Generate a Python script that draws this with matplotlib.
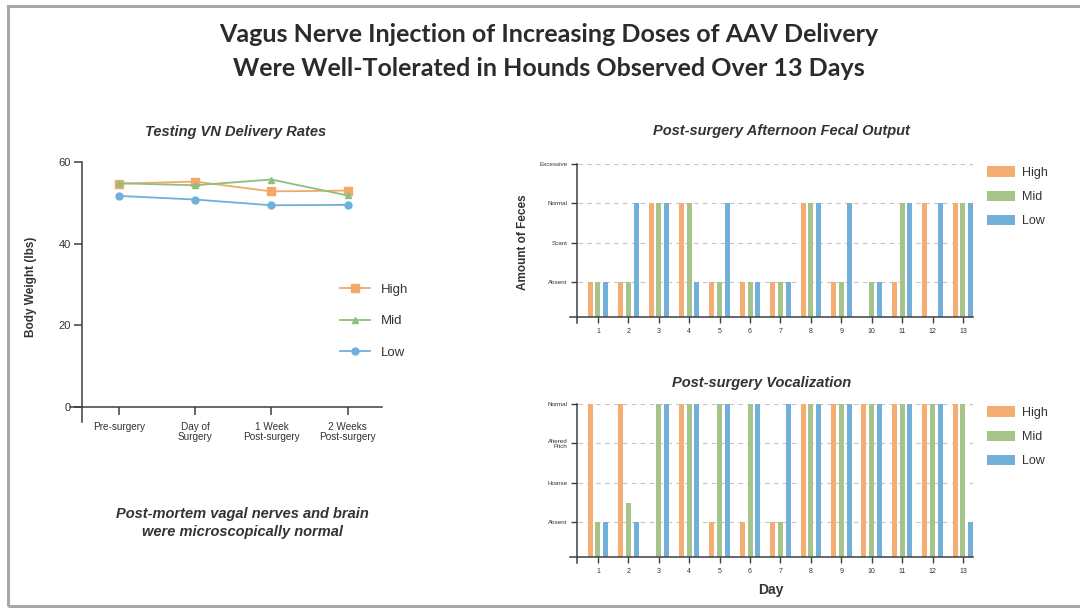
import matplotlib
matplotlib.use("Agg")
import matplotlib.pyplot as plt
from matplotlib.patches import Rectangle, Patch
import numpy as np

# ---------------- data ----------------
timepoints = ["Pre-surgery", "Day of\nSurgery", "1 Week\nPost-surgery", "2 Weeks\nPost-surgery"]
weight_high = [54.7, 55.2, 52.8, 53.0]
weight_mid = [54.8, 54.3, 55.7, 51.8]
weight_low = [51.7, 50.8, 49.4, 49.5]
weight_ticks = [0, 20, 40, 60]

days = list(range(1, 14))
feces_levels = ["Absent", "Scant", "Normal", "Excessive"]
feces_high = [1, 1, 3, 3, 1, 1, 1, 3, 1, 0, 1, 3, 3]
feces_mid = [1, 1, 3, 3, 1, 1, 1, 3, 1, 1, 3, 0, 3]
feces_low = [1, 3, 3, 1, 3, 1, 1, 3, 3, 1, 3, 3, 3]

voc_levels = ["Absent", "Hoarse", "Altered\nPitch", "Normal"]
voc_high = [4, 4, 0, 4, 1, 1, 1, 4, 4, 4, 4, 4, 4]
voc_mid = [1, 1.5, 4, 4, 4, 4, 1, 4, 4, 4, 4, 4, 4]
voc_low = [1, 1, 4, 4, 4, 4, 4, 4, 4, 4, 4, 4, 1]

groups = ["High", "Mid", "Low"]

# ---------------- style ----------------
C_OR = "#F4AE74"
C_GR = "#A6C48A"
C_BL = "#72B0DA"
L_OR = "#F3A86A"
L_GR = "#8DC07C"
L_BL = "#6FB0DD"
AX_C = "#3A3F44"
TXT = "#333333"
FONT = "Liberation Sans"

W, H = 1080, 608
fig = plt.figure(figsize=(W / 100, H / 100), dpi=100)
fig.patch.set_facecolor("white")

def fx(px):
    return px / W

def fy(py):
    return 1 - py / H

# slide border
fig.add_artist(Rectangle((fx(8), fy(606)), fx(1100) - fx(8), fy(6) - fy(606),
                         transform=fig.transFigure, fill=False,
                         edgecolor="#A8A8A8", linewidth=2.2, zorder=0))

# main title
fig.text(fx(549), fy(35), "Vagus Nerve Injection of Increasing Doses of AAV Delivery",
         ha="center", va="center", fontsize=18, fontweight="bold",
         family="Lato", color="#2B2B2B")
fig.text(fx(549), fy(68), "Were Well-Tolerated in Hounds Observed Over 13 Days",
         ha="center", va="center", fontsize=18, fontweight="bold",
         family="Lato", color="#2B2B2B")

# ---------------- left line chart ----------------
axL = fig.add_axes([fx(70), fy(422), fx(382) - fx(70), fy(162) - fy(422)])
xs = np.arange(len(timepoints))
axL.set_xlim(-0.64, 3.45)
axL.set_ylim(-3.7, 60)
for vals, col, mk, ms, lab in [(weight_high, L_OR, "s", 5.5, "High"),
                                (weight_mid, L_GR, "^", 5, "Mid"),
                                (weight_low, L_BL, "o", 5, "Low")]:
    axL.plot(xs, vals, color=col, marker=mk, markersize=ms, linewidth=1.3,
             markeredgecolor=col, label=lab)
axL.spines["top"].set_visible(False)
axL.spines["right"].set_visible(False)
axL.spines["left"].set_position(("data", -0.485))
axL.spines["bottom"].set_position(("data", 0))
for s in ["left", "bottom"]:
    axL.spines[s].set_color(AX_C)
    axL.spines[s].set_linewidth(1.1)
axL.set_xticks(xs)
axL.set_xticklabels(timepoints, fontsize=7.2, color=TXT, family=FONT, linespacing=1.0)
axL.set_yticks(weight_ticks)
axL.set_yticklabels([str(t) for t in weight_ticks], fontsize=8, color=TXT, family=FONT)
axL.tick_params(axis="both", colors=AX_C, length=6, width=1.1)
axL.tick_params(axis="x", labelcolor=TXT, pad=5)
axL.tick_params(axis="y", labelcolor=TXT, pad=2)
axL.patch.set_alpha(0)
fig.text(fx(31), fy(287), "Body Weight (lbs)", rotation=90, ha="center", va="center",
         fontsize=8.5, fontweight="bold", color=TXT, family=FONT)
fig.text(fx(236), fy(132), "Testing VN Delivery Rates", ha="center", va="center",
         fontsize=10.5, fontweight="bold", style="italic", color=TXT, family=FONT)
legL = fig.legend(handles=axL.get_lines(), labels=groups, loc="upper left",
                  bbox_to_anchor=(fx(328), fy(272)), frameon=False,
                  handlelength=2.3, labelspacing=1.45,
                  prop={"family": FONT, "size": 9.5})
for t in legL.get_texts():
    t.set_color(TXT)

fig.text(fx(242), fy(523), "Post-mortem vagal nerves and brain\nwere microscopically normal",
         ha="center", va="center", fontsize=10.5, fontweight="bold", style="italic",
         color=TXT, family=FONT, linespacing=1.45)

# ---------------- bar charts ----------------
def bar_chart(top_px, levels, high, mid, low, ylabel, title, title_x, title_y, legend_y, show_day):
    step = 39.4
    ymin = -0.04
    bottom_px = top_px + (4 - ymin) * step
    ax = fig.add_axes([fx(570), fy(bottom_px), fx(973) - fx(570), fy(top_px) - fy(bottom_px)])
    ax.set_xlim(0.08, 13.33)
    ax.set_ylim(ymin, 4.0)
    base = 0.11
    x = np.array(days, dtype=float)
    w = 0.165
    off = 0.255
    for vals, col, dx in [(high, C_OR, -off), (mid, C_GR, 0.0), (low, C_BL, off)]:
        v = np.array(vals, dtype=float)
        hts = np.where(v > base, v - base, 0)
        ax.bar(x + dx, hts, width=w, bottom=base, color=col, zorder=3, linewidth=0)
    for lv in range(1, 5):
        ax.axhline(lv, xmin=0.02, color="#C4C4C4", linestyle=(0, (4, 4)), linewidth=0.8, zorder=1)
    ax.spines["top"].set_visible(False)
    ax.spines["right"].set_visible(False)
    ax.spines["left"].set_position(("data", 0.31))
    ax.spines["bottom"].set_position(("data", base))
    for s in ["left", "bottom"]:
        ax.spines[s].set_color(AX_C)
        ax.spines[s].set_linewidth(1.1)
        ax.spines[s].set_zorder(4)
    ax.set_xticks(days)
    ax.set_xticklabels([str(d) for d in days], fontsize=5, color=TXT, family=FONT)
    ax.set_yticks([1, 2, 3, 4])
    ax.set_yticklabels(levels, fontsize=4.5, color=TXT, family=FONT, linespacing=1.0)
    ax.tick_params(axis="both", colors=AX_C, length=4, width=1.0)
    ax.tick_params(axis="x", labelcolor=TXT, pad=4)
    ax.tick_params(axis="y", labelcolor=TXT, pad=3)
    ax.patch.set_alpha(0)
    if ylabel:
        fig.text(fx(523), fy(top_px + 78), ylabel, rotation=90, ha="center", va="center",
                 fontsize=8.5, fontweight="bold", color=TXT, family=FONT)
    fig.text(fx(title_x), fy(title_y), title, ha="center", va="center",
             fontsize=10.5, fontweight="bold", style="italic", color=TXT, family=FONT)
    handles = [Patch(facecolor=c, edgecolor="none") for c in (C_OR, C_GR, C_BL)]
    leg = fig.legend(handles=handles, labels=groups, loc="upper left",
                     bbox_to_anchor=(fx(976), fy(legend_y)), frameon=False,
                     handlelength=2.2, handleheight=0.9, handletextpad=0.6,
                     labelspacing=0.95,
                     prop={"family": FONT, "size": 9})
    for t in leg.get_texts():
        t.set_color(TXT)
    if show_day:
        fig.text(fx(771), fy(590), "Day", ha="center", va="center", fontsize=10,
                 fontweight="bold", color=TXT, family=FONT)
    return ax

bar_chart(164, feces_levels, feces_high, feces_mid, feces_low,
          "Amount of Feces", "Post-surgery Afternoon Fecal Output", 781, 131, 155, False)
bar_chart(404, voc_levels, voc_high, voc_mid, voc_low,
          None, "Post-surgery Vocalization", 762, 383, 395, True)

fig.savefig("out.png", dpi=100)
